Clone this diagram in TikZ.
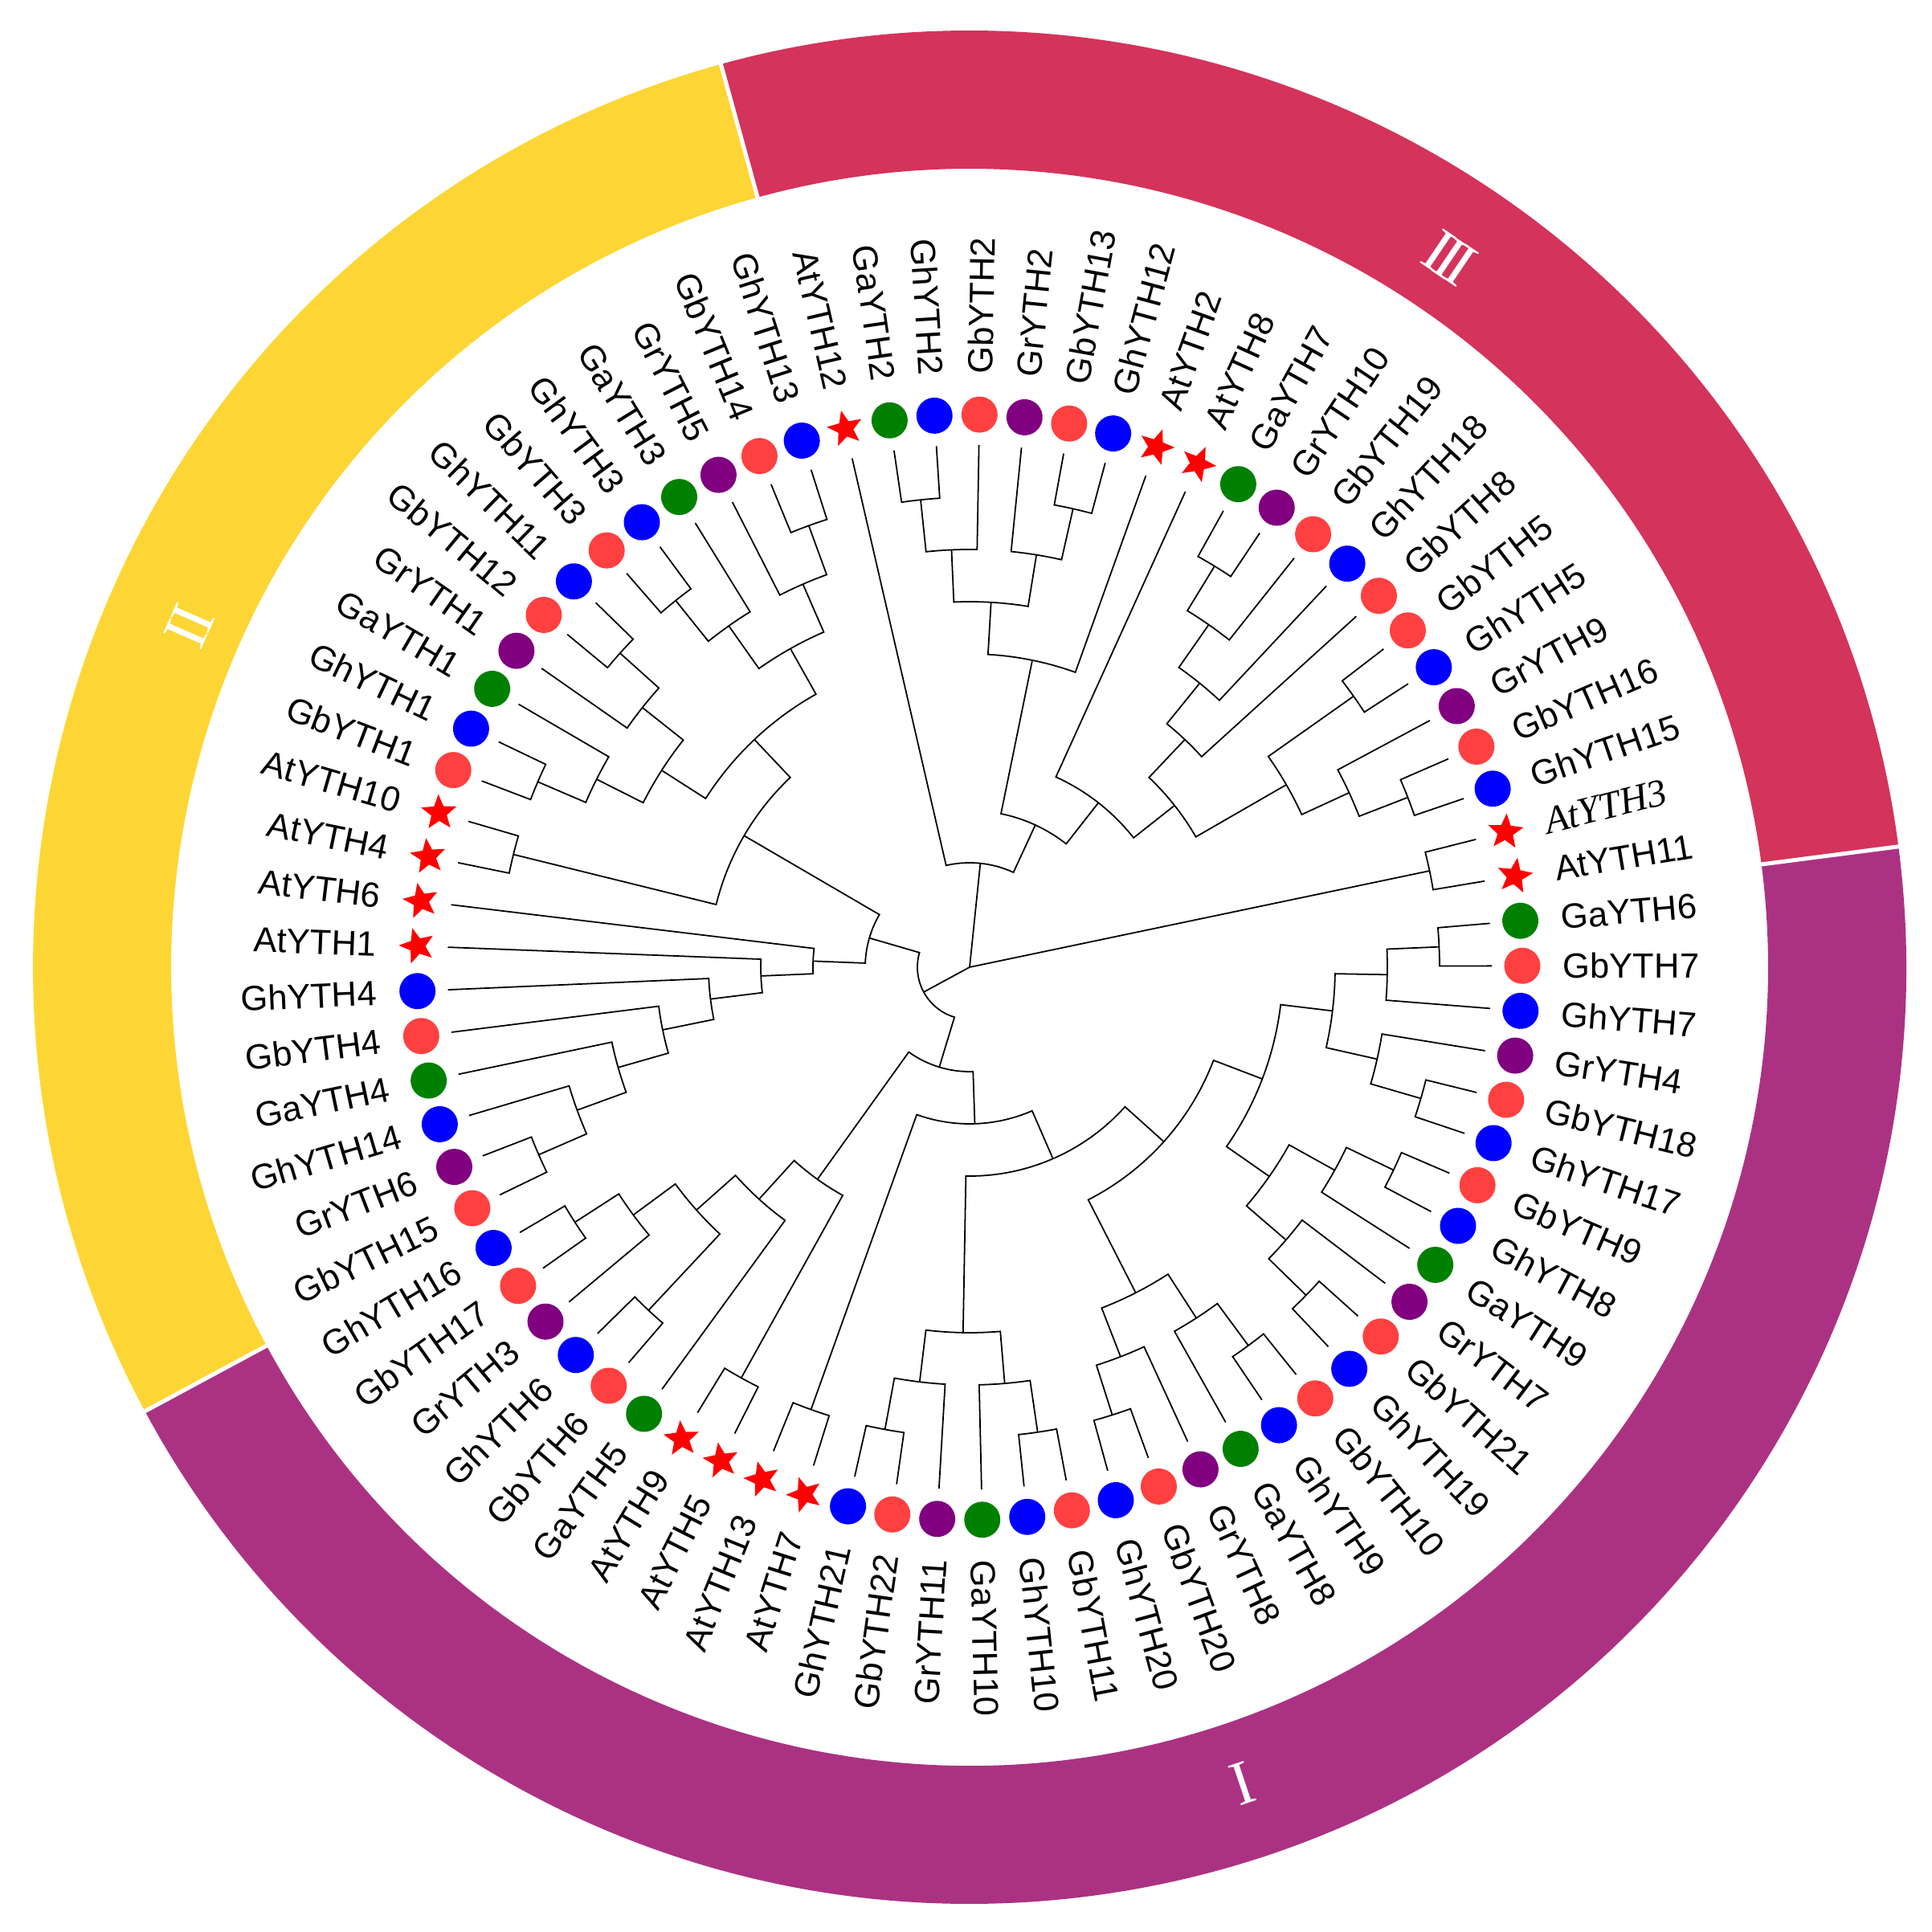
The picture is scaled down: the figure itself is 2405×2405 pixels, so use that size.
\documentclass[tikz,border=0pt]{standalone}
\usepackage{fontspec}
\setmainfont{Liberation Sans}
\newfontfamily\serifit{Liberation Serif}
\usetikzlibrary{shapes.geometric}
\definecolor{ringR}{RGB}{212,51,91}
\definecolor{ringY}{RGB}{253,214,53}
\definecolor{ringP}{RGB}{171,50,131}
\definecolor{mRed}{RGB}{255,64,64}
\definecolor{mBlue}{RGB}{0,0,255}
\definecolor{mGreen}{RGB}{0,128,0}
\definecolor{mPurple}{RGB}{128,0,128}
\definecolor{mStar}{RGB}{255,0,0}
\newcommand\atthree{\serifit\itshape\fontsize{11.4}{13}\selectfont}
% leaf: index, label, marker style
\newcommand\lf[3]{%
  \pgfmathsetmacro\tkA{103-(#1-1)*4.675325}%
  \expandafter\xdef\csname tA@x#1\endcsname{\tkA}%
  \coordinate (x#1) at (\tkA:650);%
  \node[#3, rotate=\tkA-90] (m#1) at (\tkA:688) {};%
  \pgfmathtruncatemacro\tkS{abs(\tkA)>90}%
  \ifnum\tkS=1
    \pgfmathsetmacro\tkR{\tkA+180}%
    \node[lbl, anchor=east, rotate=\tkR] (t#1) at (\tkA:738) {#2};%
  \else
    \node[lbl, anchor=west, rotate=\tkA] (t#1) at (\tkA:738) {#2};%
  \fi
}
% clade: name, height, child1, child2
\newcommand\cl[4]{%
  \edef\tkA{\csname tA@#3\endcsname}%
  \edef\tkB{\csname tA@#4\endcsname}%
  \pgfmathsetmacro\tkR{650-65*#2}%
  \pgfmathsetmacro\tkM{(\tkA+\tkB)/2}%
  \expandafter\xdef\csname tA@#1\endcsname{\tkM}%
  \coordinate (#1) at (\tkM:\tkR);%
  \draw[branch] (#3) -- (\tkA:\tkR) arc[start angle=\tkA, end angle=\tkB, radius=\tkR] -- (#4);%
}
\begin{document}
\begin{tikzpicture}[x=0.008316cm, y=0.008316cm,
  branch/.style={draw=black, line width=0.42pt, line join=miter},
  lbl/.style={font=\fontsize{10.3}{12}\selectfont, inner sep=0pt, text=black},
  dot/.style={circle, inner sep=0pt, minimum size=0.374cm},
  gb/.style={dot, fill=mRed},
  gh/.style={dot, fill=mBlue},
  ga/.style={dot, fill=mGreen},
  gr/.style={dot, fill=mPurple},
  atstar/.style={star, star points=5, star point ratio=2.3, inner sep=0pt, minimum size=0.385cm, fill=mStar},
  numeral/.style={font=\serifit\fontsize{18.5}{18.5}\selectfont, text=white, inner sep=0pt}]
\useasboundingbox (-1207,-1201) rectangle (1198,1204);
% outer ring
\fill[ringR] (7.4:994) arc[start angle=7.4, end angle=105.4, radius=994] -- (105.4:1166) arc[start angle=105.4, end angle=7.4, radius=1166] -- cycle;
\fill[ringY] (105.4:994) arc[start angle=105.4, end angle=208.3, radius=994] -- (208.3:1166) arc[start angle=208.3, end angle=105.4, radius=1166] -- cycle;
\fill[ringP] (208.3:994) arc[start angle=208.3, end angle=367.4, radius=994] -- (367.4:1166) arc[start angle=367.4, end angle=208.3, radius=1166] -- cycle;
\draw[white, line width=1.2pt] (7.4:990) -- (7.4:1170);
\draw[white, line width=1.2pt] (105.4:990) -- (105.4:1170);
\draw[white, line width=1.2pt] (208.3:990) -- (208.3:1170);
\node[numeral, rotate=-34.1] (c3) at (55.9:1066) {I\kern-2.2pt I\kern-2.2pt I};
\node[numeral, rotate=66.4] (c2) at (156.4:1060) {I\kern-1pt I};
\node[numeral, rotate=18.5] (c1) at (-71.5:1071) {I};
% leaves
\lf{1}{AtYTH12}{atstar}
\lf{2}{GaYTH2}{ga}
\lf{3}{GhYTH2}{gh}
\lf{4}{GbYTH2}{gb}
\lf{5}{GrYTH2}{gr}
\lf{6}{GbYTH13}{gb}
\lf{7}{GhYTH12}{gh}
\lf{8}{AtYTH2}{atstar}
\lf{9}{AtYTH8}{atstar}
\lf{10}{GaYTH7}{ga}
\lf{11}{GrYTH10}{gr}
\lf{12}{GbYTH19}{gb}
\lf{13}{GhYTH18}{gh}
\lf{14}{GbYTH8}{gb}
\lf{15}{GbYTH5}{gb}
\lf{16}{GhYTH5}{gh}
\lf{17}{GrYTH9}{gr}
\lf{18}{GbYTH16}{gb}
\lf{19}{GhYTH15}{gh}
\lf{20}{\atthree AtYTH3}{atstar}
\lf{21}{AtYTH11}{atstar}
\lf{22}{GaYTH6}{ga}
\lf{23}{GbYTH7}{gb}
\lf{24}{GhYTH7}{gh}
\lf{25}{GrYTH4}{gr}
\lf{26}{GbYTH18}{gb}
\lf{27}{GhYTH17}{gh}
\lf{28}{GbYTH9}{gb}
\lf{29}{GhYTH8}{gh}
\lf{30}{GaYTH9}{ga}
\lf{31}{GrYTH7}{gr}
\lf{32}{GbYTH21}{gb}
\lf{33}{GhYTH19}{gh}
\lf{34}{GbYTH10}{gb}
\lf{35}{GhYTH9}{gh}
\lf{36}{GaYTH8}{ga}
\lf{37}{GrYTH8}{gr}
\lf{38}{GbYTH20}{gb}
\lf{39}{GhYTH20}{gh}
\lf{40}{GbYTH11}{gb}
\lf{41}{GhYTH10}{gh}
\lf{42}{GaYTH10}{ga}
\lf{43}{GrYTH11}{gr}
\lf{44}{GbYTH22}{gb}
\lf{45}{GhYTH21}{gh}
\lf{46}{AtYTH7}{atstar}
\lf{47}{AtYTH13}{atstar}
\lf{48}{AtYTH5}{atstar}
\lf{49}{AtYTH9}{atstar}
\lf{50}{GaYTH5}{ga}
\lf{51}{GbYTH6}{gb}
\lf{52}{GhYTH6}{gh}
\lf{53}{GrYTH3}{gr}
\lf{54}{GbYTH17}{gb}
\lf{55}{GhYTH16}{gh}
\lf{56}{GbYTH15}{gb}
\lf{57}{GrYTH6}{gr}
\lf{58}{GhYTH14}{gh}
\lf{59}{GaYTH4}{ga}
\lf{60}{GbYTH4}{gb}
\lf{61}{GhYTH4}{gh}
\lf{62}{AtYTH1}{atstar}
\lf{63}{AtYTH6}{atstar}
\lf{64}{AtYTH4}{atstar}
\lf{65}{AtYTH10}{atstar}
\lf{66}{GbYTH1}{gb}
\lf{67}{GhYTH1}{gh}
\lf{68}{GaYTH1}{ga}
\lf{69}{GrYTH1}{gr}
\lf{70}{GbYTH12}{gb}
\lf{71}{GhYTH11}{gh}
\lf{72}{GbYTH3}{gb}
\lf{73}{GhYTH3}{gh}
\lf{74}{GaYTH3}{ga}
\lf{75}{GrYTH5}{gr}
\lf{76}{GbYTH14}{gb}
\lf{77}{GhYTH13}{gh}
% clade III
\cl{A1}{1}{x2}{x3}
\cl{A2}{2}{A1}{x4}
\cl{A3}{1}{x6}{x7}
\cl{A4}{2}{x5}{A3}
\cl{T3}{3}{A2}{A4}
\cl{T2}{4}{T3}{x8}
\cl{Ba}{1}{x10}{x11}
\cl{Bb}{2}{Ba}{x12}
\cl{Bc}{3}{Bb}{x13}
\cl{Nc}{4}{Bc}{x14}
\cl{Ca}{1}{x15}{x16}
\cl{Cb}{1}{x18}{x19}
\cl{Cc}{2}{x17}{Cb}
\cl{Nd}{3}{Ca}{Cc}
\cl{T5}{5}{Nc}{Nd}
\cl{T4}{6}{x9}{T5}
\cl{T1}{7}{T2}{T4}
\cl{T0}{8}{x1}{T1}
\cl{RA}{1}{x20}{x21}
% clade I
\cl{D1}{1}{x22}{x23}
\cl{D2}{2}{D1}{x24}
\cl{D3}{1}{x26}{x27}
\cl{D4}{2}{x25}{D3}
\cl{D5}{3}{D2}{D4}
\cl{E1}{1}{x28}{x29}
\cl{E2}{2}{x30}{E1}
\cl{E3}{1}{x32}{x33}
\cl{E4}{2}{x31}{E3}
\cl{B6}{3}{E2}{E4}
\cl{B5}{4}{D5}{B6}
\cl{F1}{1}{x34}{x35}
\cl{F2}{2}{x36}{F1}
\cl{F3}{1}{x38}{x39}
\cl{F4}{2}{x37}{F3}
\cl{B3}{3}{F2}{F4}
\cl{B4}{5}{B5}{B3}
\cl{G1}{1}{x40}{x41}
\cl{G2}{2}{x42}{G1}
\cl{G3}{1}{x44}{x45}
\cl{G4}{2}{x43}{G3}
\cl{B2}{3}{G2}{G4}
\cl{B1}{6}{B4}{B2}
\cl{H1}{1}{x46}{x47}
\cl{L2b}{7}{B1}{H1}
\cl{I1}{1}{x48}{x49}
\cl{I2}{1}{x51}{x52}
\cl{I3}{1}{x54}{x55}
\cl{I4}{2}{x53}{I3}
\cl{L5}{3}{I2}{I4}
\cl{L4}{4}{x50}{L5}
\cl{L3}{5}{I1}{L4}
\cl{L2}{8}{L2b}{L3}
% clade II
\cl{J1}{1}{x56}{x57}
\cl{J2}{2}{x58}{J1}
\cl{J3}{3}{x59}{J2}
\cl{J4}{4}{x60}{J3}
\cl{J5}{5}{x61}{J4}
\cl{J6}{6}{x62}{J5}
\cl{L1b}{7}{x63}{J6}
\cl{K1}{1}{x64}{x65}
\cl{K2}{1}{x66}{x67}
\cl{K3}{2}{x68}{K2}
\cl{K4}{1}{x70}{x71}
\cl{K5}{2}{x69}{K4}
\cl{Q}{3}{K3}{K5}
\cl{M1}{1}{x72}{x73}
\cl{M2}{2}{x74}{M1}
\cl{M3}{1}{x76}{x77}
\cl{M4}{2}{x75}{M3}
\cl{Qp}{3}{M2}{M4}
\cl{P}{4}{Q}{Qp}
\cl{L1a}{5}{K1}{P}
\cl{L1}{8}{L1b}{L1a}
\cl{L0}{9}{L2}{L1}
% root
\coordinate (root) at (0,0);
\draw[branch] (root) -- (T0);
\draw[branch] (root) -- (RA);
\draw[branch] (root) -- (L0);
\end{tikzpicture}
\end{document}
